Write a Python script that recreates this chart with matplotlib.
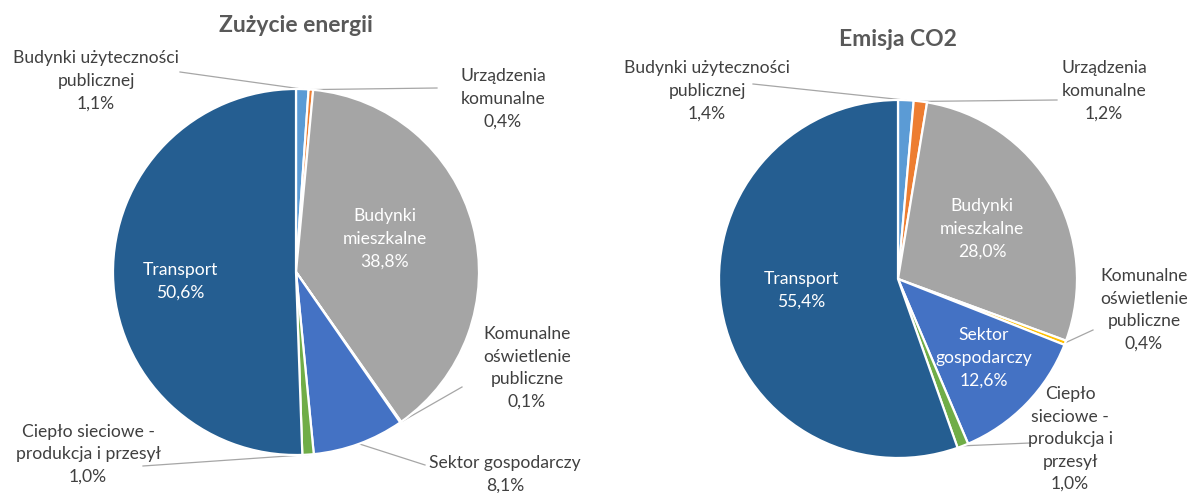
import numpy as np
import matplotlib
matplotlib.use("Agg")
import matplotlib.pyplot as plt

plt.rcParams['font.family'] = ['Lato', 'DejaVu Sans']

# Sectors, in drawing order (clockwise from 12 o'clock)
categories = [
    "Budynki użyteczności publicznej",
    "Urządzenia komunalne",
    "Budynki mieszkalne",
    "Komunalne oświetlenie publiczne",
    "Sektor gospodarczy",
    "Ciepło sieciowe - produkcja i przesył",
    "Transport",
]
energy_share = [1.1, 0.4, 38.8, 0.1, 8.1, 1.0, 50.6]
co2_share = [1.4, 1.2, 28.0, 0.4, 12.6, 1.0, 55.4]

energy_names = [
    "Budynki użyteczności\npublicznej",
    "Urządzenia\nkomunalne",
    "Budynki\nmieszkalne",
    "Komunalne\noświetlenie\npubliczne",
    "Sektor gospodarczy",
    "Ciepło sieciowe -\nprodukcja i przesył",
    "Transport",
]
co2_names = [
    "Budynki użyteczności\npublicznej",
    "Urządzenia\nkomunalne",
    "Budynki\nmieszkalne",
    "Komunalne\noświetlenie\npubliczne",
    "Sektor\ngospodarczy",
    "Ciepło\nsieciowe -\nprodukcja i\nprzesył",
    "Transport",
]

colors = ["#5B9BD5", "#ED7D31", "#A5A5A5", "#FFC000", "#4472C4", "#70AD47", "#255E91"]

W, H = 1188, 493
fig = plt.figure(figsize=(W / 100, H / 100), dpi=100)
ax = fig.add_axes([0, 0, 1, 1])

TEXT = "#404040"
LINE = "#A6A6A6"


def draw_pie(values, names, title, center, radius, title_pos, label_pos, inside, leader_end):
    cx, cy = center[0], H - center[1]
    ax.pie(values, colors=colors, startangle=90, counterclock=False,
           center=(cx, cy), radius=radius, normalize=True, frame=True,
           wedgeprops=dict(edgecolor="white", linewidth=1.6))
    total = float(np.sum(values))
    cum = np.cumsum([0] + list(values))[:-1]
    for i, v in enumerate(values):
        mid = 90 - (cum[i] + v / 2) / total * 360
        txt = names[i] + "\n" + f"{v:.1f}".replace(".", ",") + "%"
        lx, ly = label_pos[i]
        ax.text(lx, H - ly, txt, ha="center", va="center", fontsize=12.6,
                color="white" if inside[i] else TEXT, linespacing=1.5)
        if leader_end[i] is not None:
            ex, ey = leader_end[i]
            sx = cx + radius * np.cos(np.radians(mid))
            sy = cy + radius * np.sin(np.radians(mid))
            ax.plot([sx, ex], [sy, H - ey], color=LINE, lw=0.9, zorder=0.5)
    ax.text(title_pos[0], H - title_pos[1], title, ha="center", va="center",
            fontsize=16.5, fontweight="bold", color="#595959")


draw_pie(
    energy_share, energy_names, "Zużycie energii",
    center=(296, 272), radius=183, title_pos=(296, 25),
    label_pos=[(96, 81), (503, 99), (385, 239), (527, 368), (505, 474), (88, 454), (180, 281)],
    inside=[False, False, True, False, False, False, True],
    leader_end=[(180, 72), (437, 88), None, (462, 387), (425, 465), (143, 466), None],
)

draw_pie(
    co2_share, co2_names, "Emisja CO2",
    center=(898, 279), radius=179, title_pos=(898, 40),
    label_pos=[(707, 91), (1104, 91), (982, 229), (1144, 310), (984, 358), (1070, 439), (801, 290)],
    inside=[False, False, True, False, True, False, True],
    leader_end=[(753, 84), (1057, 100), None, (1093, 330), None, (1030, 443), None],
)

ax.set_xlim(0, W)
ax.set_ylim(0, H)
ax.set_aspect("equal")
ax.axis("off")

fig.savefig("out.png", dpi=100, facecolor="white")
